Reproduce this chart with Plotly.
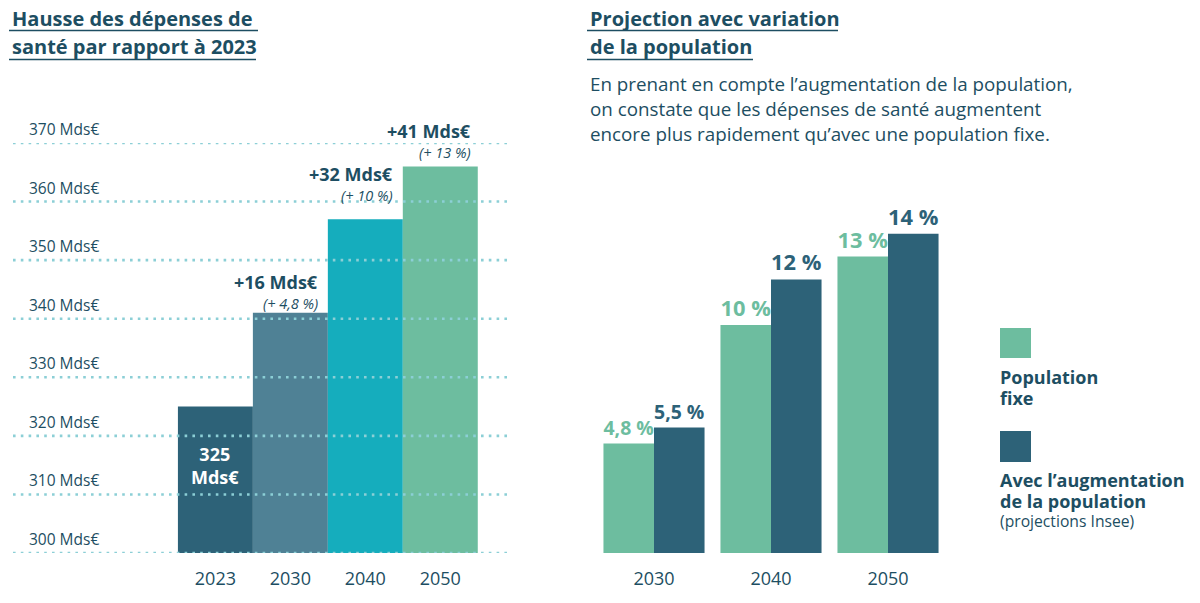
import plotly.graph_objects as go

# ---- data ----
years_left = ["2023", "2030", "2040", "2050"]
spend_mds = [325, 341, 357, 366]
delta_labels = ["", "+16 Mds€", "+32 Mds€", "+41 Mds€"]
delta_pct = ["", "(+ 4,8 %)", "(+ 10 %)", "(+ 13 %)"]
left_ticks = [300, 310, 320, 330, 340, 350, 360, 370]

years_right = ["2030", "2040", "2050"]
pop_fixe = [4.8, 10, 13]
pop_aug = [5.5, 12, 14]
pop_fixe_txt = ["4,8 %", "10 %", "13 %"]
pop_aug_txt = ["5,5 %", "12 %", "14 %"]

# ---- style ----
FONT = "Open Sans"
DARK = "#1d4e62"
C_LEFT = ["#2d6278", "#4f8195", "#15adbd", "#6dbd9f"]
GREEN = "#6dbd9f"
BLUE = "#2d6278"
GRID = "#8ccfd6"

W, H = 1200, 603
OFF = 8  # page offset of the figure in the browser


def py(px):
    return 1 - (px - OFF) / H


def pxx(px):
    return (px - OFF) / W


fig = go.Figure()

# Left chart
fig.add_trace(go.Bar(
    x=list(range(len(years_left))), y=spend_mds, width=1,
    marker=dict(color=C_LEFT, line=dict(width=0)),
    xaxis="x", yaxis="y", showlegend=False, hoverinfo="skip",
))

# Right chart
fig.add_trace(go.Bar(
    x=years_right, y=pop_fixe, name="Population fixe",
    marker=dict(color=GREEN, line=dict(width=0)),
    text=pop_fixe_txt, textposition="outside",
    textfont=dict(family=FONT, size=22, color=GREEN, weight=700),
    cliponaxis=False, xaxis="x2", yaxis="y2", showlegend=False, hoverinfo="skip",
))
fig.add_trace(go.Bar(
    x=years_right, y=pop_aug, name="Avec l'augmentation",
    marker=dict(color=BLUE, line=dict(width=0)),
    text=pop_aug_txt, textposition="outside",
    textfont=dict(family=FONT, size=22, color=BLUE, weight=700),
    cliponaxis=False, xaxis="x2", yaxis="y2", showlegend=False, hoverinfo="skip",
))

shapes = []
annotations = []

# dotted gridlines above bars (left) with their labels 14px above
for t in left_ticks:
    shapes.append(dict(type="line", xref="x domain", yref="y", x0=0, x1=1, y0=t, y1=t,
                       line=dict(color=GRID, width=2.6, dash="2.6px,5.2px"), layer="above"))
    annotations.append(dict(xref="paper", yref="y", x=pxx(27), y=t, yshift=14,
                            xanchor="left", yanchor="middle", showarrow=False,
                            text=f"{t} Mds€",
                            font=dict(family=FONT, size=15.5, color=DARK)))

# delta labels above bars
yshifts = [0, -1, 13, 3]
xshifts = [0, -9, -9, -6]
for i, (lab, pct) in enumerate(zip(delta_labels, delta_pct)):
    if not lab:
        continue
    annotations.append(dict(xref="x", yref="y", x=i + 0.5, y=spend_mds[i],
                            xanchor="right", yanchor="bottom", xshift=xshifts[i],
                            yshift=yshifts[i], borderpad=0,
                            showarrow=False, align="right",
                            text=f"<i>{pct}</i>",
                            font=dict(family=FONT, size=14.5, color=DARK)))
    annotations.append(dict(xref="x", yref="y", x=i + 0.5, y=spend_mds[i],
                            xanchor="right", yanchor="bottom", xshift=xshifts[i],
                            yshift=yshifts[i] + 19, borderpad=0,
                            showarrow=False, align="right",
                            text=f"<b>{lab}</b>",
                            font=dict(family=FONT, size=18, color=DARK)))

annotations.append(dict(xref="x", yref="y", x=0, y=315, showarrow=False,
                        text="<b>325<br>Mds€</b>", align="center",
                        font=dict(family=FONT, size=18, color="white")))


# Titles
def title_block(x, centers, lines, underline_ys, underline_ends):
    for (yc, txt, yu, xe) in zip(centers, lines, underline_ys, underline_ends):
        annotations.append(dict(xref="paper", yref="paper", x=pxx(x), y=py(yc),
                                xanchor="left", yanchor="middle", showarrow=False,
                                borderpad=0,
                                text=f"<b>{txt}</b>",
                                font=dict(family=FONT, size=20, color=DARK)))
        shapes.append(dict(type="line", xref="paper", yref="paper",
                           x0=pxx(x - 2), x1=pxx(xe), y0=py(yu), y1=py(yu),
                           line=dict(color=DARK, width=1.5)))


title_block(11, [18, 46], ["Hausse des dépenses de", "santé par rapport à 2023"],
            [30.5, 59.5], [258, 256])
title_block(589, [18, 46], ["Projection avec variation", "de la population"],
            [30.5, 59.5], [838, 753])

sub = ["En prenant en compte l’augmentation de la population,",
       "on constate que les dépenses de santé augmentent",
       "encore plus rapidement qu’avec une population fixe."]
for k, s in enumerate(sub):
    annotations.append(dict(xref="paper", yref="paper", x=pxx(588), y=py(84 + 25 * k),
                            xanchor="left", yanchor="middle", showarrow=False, text=s,
                            font=dict(family=FONT, size=18.8, color=DARK)))

# Legend
shapes.append(dict(type="rect", xref="paper", yref="paper", x0=pxx(1000), x1=pxx(1031),
                   y0=py(358), y1=py(328), fillcolor=GREEN, line=dict(width=0)))
shapes.append(dict(type="rect", xref="paper", yref="paper", x0=pxx(1000), x1=pxx(1031),
                   y0=py(462), y1=py(431), fillcolor=BLUE, line=dict(width=0)))
leg_lines = [(377, "<b>Population</b>", 18), (398, "<b>fixe</b>", 18),
             (480, "<b>Avec l’augmentation</b>", 18), (501, "<b>de la population</b>", 18),
             (521, "(projections Insee)", 15.7)]
for yl, txt, sz in leg_lines:
    annotations.append(dict(xref="paper", yref="paper", x=pxx(999), y=py(yl),
                            xanchor="left", yanchor="middle", showarrow=False, text=txt,
                            borderpad=0,
                            font=dict(family=FONT, size=sz, color=DARK)))

fig.update_layout(
    width=W, height=H, margin=dict(l=0, r=0, t=0, b=0),
    paper_bgcolor="white", plot_bgcolor="white",
    barmode="group", bargap=0.136, bargroupgap=0,
    font=dict(family=FONT, color=DARK),
    xaxis=dict(domain=[pxx(13), pxx(510)], range=[-2.7, 3.93],
               tickmode="array", tickvals=list(range(len(years_left))), ticktext=years_left,
               showgrid=False, zeroline=False, showline=False, ticks="",
               tickfont=dict(family=FONT, size=18, color=DARK), ticklabelstandoff=13),
    yaxis=dict(domain=[py(553), py(143)], range=[300, 370], showgrid=False,
               zeroline=False, showticklabels=False, showline=False),
    xaxis2=dict(domain=[pxx(595.5), pxx(946.5)], anchor="y2", showgrid=False,
                zeroline=False, showline=False, ticks="",
                tickfont=dict(family=FONT, size=18, color=DARK), ticklabelstandoff=13),
    yaxis2=dict(domain=[py(553), py(211)], range=[0, 15], anchor="x2", showgrid=False,
                zeroline=False, showticklabels=False, showline=False),
    shapes=shapes, annotations=annotations,
)

fig.write_html("out.html")
